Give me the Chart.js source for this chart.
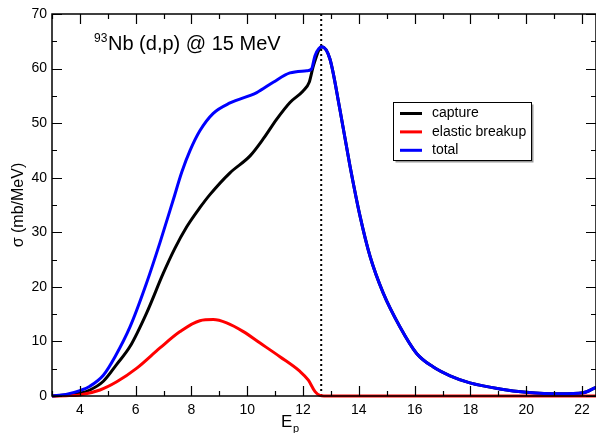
<!DOCTYPE html>
<html>
<head>
<meta charset="utf-8">
<script src="https://cdn.jsdelivr.net/npm/chart.js@4.4.1/dist/chart.umd.min.js"></script>
<style>
  html, body { margin: 0; padding: 0; background: #fff; }
  #wrap { width: 596px; height: 433px; position: relative; }
</style>
</head>
<body>
<div id="wrap"><canvas id="chart" width="596" height="433"></canvas></div>
<script>
  // proton energy (MeV) and cross sections (mb/MeV)
  const totalEnergy = [3, 3.5, 4, 4.36, 4.84, 5.26, 5.8, 6.39, 6.87, 7.35, 7.65, 7.95, 8.3, 8.78, 9.38, 10.34, 10.93, 11.53, 12.13, 12.3, 12.43, 12.67, 12.96, 13.32, 13.68, 14.04, 14.4, 14.87, 15.47, 16.07, 16.67, 17.27, 17.98, 19.06, 20.0, 21.2, 22.04, 22.5];
  const totalValues = [0, 0.3, 1.0, 1.8, 3.8, 7.2, 12.7, 20.7, 28.1, 36, 41, 45, 48.6, 51.8, 53.7, 55.6, 57.5, 59.2, 59.6, 59.9, 62.4, 64.0, 61.8, 52.5, 42.2, 33, 25.6, 18.9, 12.7, 7.8, 5.3, 3.7, 2.4, 1.3, 0.7, 0.4, 0.6, 1.6];

  const captureEnergy = [3, 3.5, 4, 4.36, 4.84, 5.32, 5.8, 6.39, 6.99, 7.4, 7.83, 8.3, 8.66, 9.38, 10.1, 10.57, 11.05, 11.53, 12.0, 12.22, 12.37, 12.67, 12.96, 13.32, 13.68, 14.04, 14.4, 14.87, 15.47, 16.07, 16.67, 17.27, 17.98, 19.06, 20.0, 21.2, 22.04, 22.5];
  const captureValues = [0, 0.2, 0.5, 1.1, 2.7, 5.8, 9.1, 15.2, 22.5, 27, 31, 34.5, 36.9, 40.9, 44, 47.1, 50.7, 53.8, 55.9, 57.5, 60.5, 64.0, 61.8, 52.5, 42.2, 33, 25.6, 18.9, 12.7, 7.8, 5.3, 3.7, 2.4, 1.3, 0.7, 0.4, 0.6, 1.6];

  const breakupEnergy = [3, 3.5, 4, 4.72, 5.32, 6.04, 6.87, 7.59, 8.3, 8.78, 9.26, 9.86, 10.46, 11.17, 11.89, 12.19, 12.43, 12.6, 12.75, 22.5];
  const breakupValues = [0, 0.05, 0.2, 1.1, 2.6, 5.1, 8.8, 11.8, 13.8, 14.0, 13.4, 11.8, 9.7, 7.2, 4.5, 2.9, 0.8, 0.1, 0, 0];

  const thresholdEnergy = 12.65;
  const xRange = [3, 22.5];
  const yRange = [0, 70];
  const xTickValues = [3, 4, 5, 6, 7, 8, 9, 10, 11, 12, 13, 14, 15, 16, 17, 18, 19, 20, 21, 22];
  const xTickLabels = ['', '4', '', '6', '', '8', '', '10', '', '12', '', '14', '', '16', '', '18', '', '20', '', '22'];
  const yTickValues = [0, 5, 10, 15, 20, 25, 30, 35, 40, 45, 50, 55, 60, 65, 70];
  const yTickLabels = ['0', '', '10', '', '20', '', '30', '', '40', '', '50', '', '60', '', '70'];
  const seriesLabels = ['capture', 'elastic breakup', 'total'];

  function toPoints(xs, ys) {
    return xs.map((x, i) => ({ x: x, y: ys[i] }));
  }

  const FONT = '"Liberation Sans", Arial, sans-serif';

  const framePlugin = {
    id: 'frame',
    afterDraw(chart) {
      const ctx = chart.ctx;
      const a = chart.chartArea;
      const xs = chart.scales.x;
      const ys = chart.scales.y;
      ctx.save();
      ctx.strokeStyle = '#000';
      ctx.lineWidth = 1.5;
      ctx.strokeRect(a.left, a.top, a.right - a.left, a.bottom - a.top);

      ctx.lineWidth = 1.2;
      ctx.beginPath();
      xs.ticks.forEach((t, i) => {
        const px = Math.round(xs.getPixelForValue(t.value)) + 0.5;
        const len = xTickLabels[i] ? 10 : 5;
        ctx.moveTo(px, a.bottom); ctx.lineTo(px, a.bottom - len);
        ctx.moveTo(px, a.top); ctx.lineTo(px, a.top + len);
      });
      ys.ticks.forEach((t, i) => {
        const py = Math.round(ys.getPixelForValue(t.value)) + 0.5;
        const len = yTickLabels[i] ? 10 : 5;
        ctx.moveTo(a.left, py); ctx.lineTo(a.left + len, py);
        ctx.moveTo(a.right, py); ctx.lineTo(a.right - len, py);
      });
      ctx.stroke();

      // title inside the plot
      ctx.fillStyle = '#000';
      ctx.textBaseline = 'alphabetic';
      ctx.textAlign = 'left';
      ctx.font = '12px ' + FONT;
      ctx.fillText('93', 94, 42);
      ctx.font = '20px ' + FONT;
      ctx.fillText('Nb (d,p) @ 15 MeV', 108, 50);

      // axis titles
      ctx.font = '17px ' + FONT;
      ctx.fillText('E', 281, 427);
      ctx.font = '11px ' + FONT;
      ctx.fillText('p', 293, 432);
      ctx.save();
      ctx.translate(23, 205);
      ctx.rotate(-Math.PI / 2);
      ctx.textAlign = 'center';
      ctx.font = '16px ' + FONT;
      ctx.fillText('σ (mb/MeV)', 0, 0);
      ctx.restore();

      // legend box
      const lx = 393.5, ly = 102.5, lw = 138, lh = 58;
      ctx.fillStyle = '#999';
      ctx.fillRect(lx + 2, ly + 2, lw, lh);
      ctx.fillStyle = '#fff';
      ctx.fillRect(lx, ly, lw, lh);
      ctx.strokeStyle = '#000';
      ctx.lineWidth = 1;
      ctx.strokeRect(lx, ly, lw, lh);
      ctx.font = '14px ' + FONT;
      ctx.textBaseline = 'middle';
      seriesLabels.forEach((label, i) => {
        const ds = chart.data.datasets.find(d => d.label === label);
        const yy = 113.5 + i * 18.4;
        ctx.strokeStyle = ds.borderColor;
        ctx.lineWidth = 3;
        ctx.beginPath();
        ctx.moveTo(400, yy); ctx.lineTo(422, yy);
        ctx.stroke();
        ctx.fillStyle = '#000';
        ctx.fillText(label, 432, yy);
      });
      ctx.restore();
    }
  };

  const lineStyle = { borderWidth: 3, pointRadius: 0, fill: false, cubicInterpolationMode: 'monotone', clip: 4 };

  new Chart(document.getElementById('chart'), {
    type: 'line',
    data: {
      datasets: [
        Object.assign({ label: 'total', data: toPoints(totalEnergy, totalValues), borderColor: '#0000ff', order: 0 }, lineStyle),
        Object.assign({ label: 'elastic breakup', data: toPoints(breakupEnergy, breakupValues), borderColor: '#ff0000', order: 1 }, lineStyle),
        Object.assign({ label: 'capture', data: toPoints(captureEnergy, captureValues), borderColor: '#000000', order: 2 }, lineStyle),
        {
          label: 'threshold',
          data: toPoints([thresholdEnergy, thresholdEnergy], yRange),
          borderColor: '#000', borderWidth: 2, borderDash: [2, 3], pointRadius: 0, order: 3
        }
      ]
    },
    options: {
      responsive: false,
      animation: false,
      layout: { padding: { top: 14, right: 0, left: 0, bottom: 0 } },
      plugins: { legend: { display: false }, tooltip: { enabled: false } },
      scales: {
        x: {
          type: 'linear', min: xRange[0], max: xRange[1],
          grid: { display: false, drawTicks: false },
          border: { display: false },
          afterBuildTicks: s => { s.ticks = xTickValues.map(v => ({ value: v })); },
          ticks: {
            autoSkip: false, maxRotation: 0, padding: 6,
            color: '#000', font: { family: FONT, size: 14 },
            callback: (v, i) => xTickLabels[i]
          },
          afterFit: s => { s.height = 37; }
        },
        y: {
          min: yRange[0], max: yRange[1],
          grid: { display: false, drawTicks: false },
          border: { display: false },
          afterBuildTicks: s => { s.ticks = yTickValues.map(v => ({ value: v })); },
          ticks: {
            autoSkip: false, padding: 5,
            color: '#000', font: { family: FONT, size: 14 },
            callback: (v, i) => yTickLabels[i]
          },
          afterFit: s => { s.width = 52; }
        }
      }
    },
    plugins: [framePlugin]
  });
</script>
</body>
</html>
